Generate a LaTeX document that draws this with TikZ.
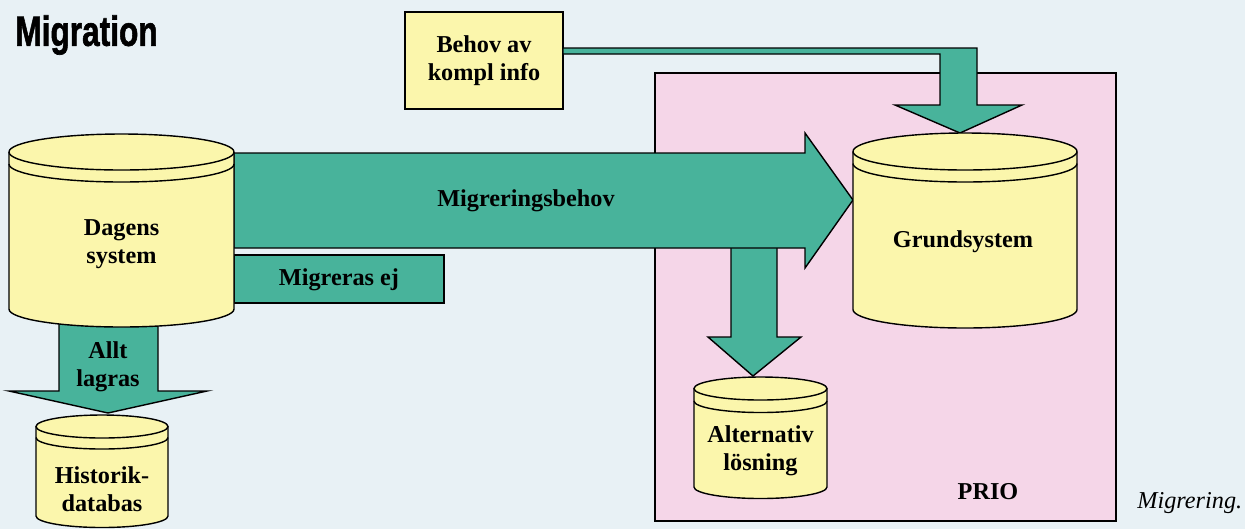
\documentclass[tikz,border=0pt]{standalone}
\usepackage{fontspec}
\setmainfont{Liberation Serif}
\newfontfamily\titlefont[FakeBold=1.6]{Liberation Sans Bold}
\definecolor{bgc}{HTML}{E8F1F5}
\definecolor{pinkc}{HTML}{F5D6E8}
\definecolor{yelc}{HTML}{FBF6AC}
\definecolor{tealc}{HTML}{48B39B}
\newcommand\mycyl[7]{% name cx top bottom rx ry gap
  \fill[yelc] ({#2-#5},#3) -- ({#2-#5},#4) arc[start angle=180,end angle=0,x radius=#5,y radius=#6] -- ({#2+#5},#3) -- cycle;
  \draw[line] ({#2-#5},#3) -- ({#2-#5},#4) arc[start angle=180,end angle=0,x radius=#5,y radius=#6] -- ({#2+#5},#3);
  \draw[line] ({#2-#5},{#3+#7}) arc[start angle=180,end angle=0,x radius=#5,y radius=#6];
  \draw[line,fill=yelc] (#2,#3) ellipse [x radius=#5,y radius=#6];
  \coordinate (#1) at (#2,{(#3+#4)/2});
}
\begin{document}
\begin{tikzpicture}[x=0.02cm,y=-0.02cm,
  line/.style={draw=black,line width=0.8pt,line join=miter},
  block/.style={line,fill=tealc},
  lbl/.style={font=\fontsize{13.8}{16}\selectfont\bfseries,align=center,inner sep=0pt}]
\fill[bgc] (0,0) rectangle (1245,529);
\useasboundingbox (0,0) rectangle (1245,529);
% title
\node[anchor=west,inner sep=0pt] (title) at (15,35) {\titlefont\fontsize{24}{26}\selectfont\scalebox{0.75}[1]{Migration}};
% PRIO box
\draw[line,fill=pinkc] (655,73) rectangle (1116,521);
\node[lbl] (prio) at (988,492) {PRIO};
% Behov box
\node[line,fill=yelc,minimum width=158*0.02cm,minimum height=97*0.02cm,lbl] (behov) at (484,60.5) {Behov av\\kompl info};
% Behov arrow
\draw[block] (563,48) -- (977,48) -- (977,105) -- (1022,105) -- (960,133) -- (895,105) -- (940,105) -- (940,54) -- (563,54) -- cycle;
% down arrow to Alternativ
\draw[block] (731,246) -- (777,246) -- (777,337) -- (801,337) -- (753,376) -- (708,337) -- (731,337) -- cycle;
% main arrow
\draw[block] (234,153) -- (805,153) -- (805,133) -- (853,200) -- (805,268) -- (805,248) -- (234,248) -- cycle;
\node[lbl] (mb) at (526,201) {Migreringsbehov};
% Migreras ej
\draw[block] (234,255) rectangle (444,303);
\node[lbl] (me) at (339,280) {Migreras ej};
% Allt lagras arrow
\draw[block] (59,320) -- (158,320) -- (158,391) -- (207,391) -- (108,413) -- (9,391) -- (59,391) -- cycle;
\node[lbl] (allt) at (108,367) {Allt\\lagras};
% cylinders
\mycyl{dagens}{121.5}{152}{309}{112.5}{18}{12}
\node[lbl] (dagensl) at (121.5,244) {Dagens\\system};
\mycyl{grund}{965}{151.5}{309.5}{112}{18.5}{12}
\node[lbl] (grundl) at (963,242) {Grundsystem};
\mycyl{alt}{760.5}{388.5}{487}{66.5}{11.5}{12.5}
\node[lbl] (altl) at (760.5,451) {Alternativ\\lösning};
\mycyl{hist}{102}{426.5}{516}{66}{11.5}{11}
\node[lbl] (histl) at (102,489) {Historik-\\databas};
% caption
\node[anchor=west,inner sep=0pt,font=\fontsize{13.8}{15}\selectfont\itshape] (cap) at (1137,503) {Migrering.};
\end{tikzpicture}
\end{document}
